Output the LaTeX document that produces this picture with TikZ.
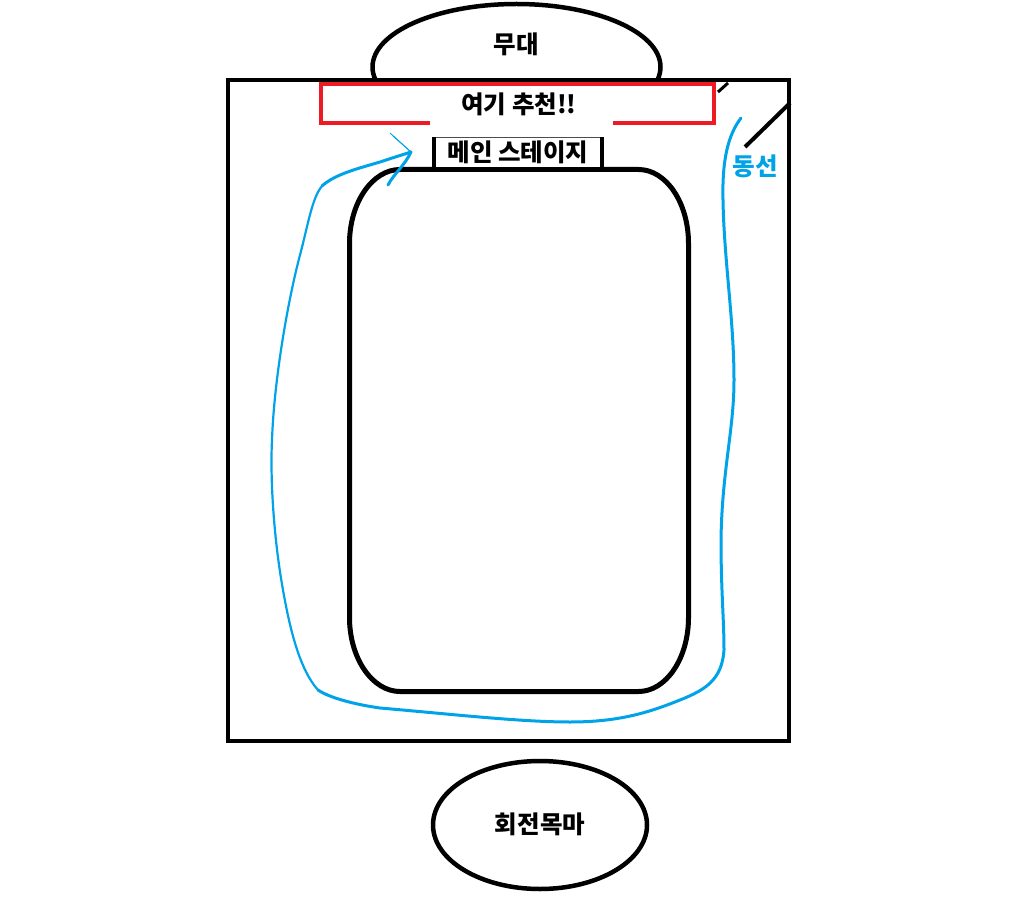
\documentclass[tikz,border=0pt]{standalone}
\usepackage{fontspec}
\usetikzlibrary{shapes.geometric}
\newfontfamily\krfont{Noto Sans CJK KR}
\definecolor{pblue}{HTML}{00A2E8}
\definecolor{pred}{HTML}{ED1C24}
\begin{document}
\begin{tikzpicture}[x=1pt,y=-1pt,
  lbl/.style={font=\krfont\bfseries\fontsize{24.5}{27}\selectfont, inner sep=0pt, anchor=center},
  blk/.style={line width=4.5pt, black},
  flow/.style={pblue, line width=3pt, line cap=round, line join=round}]
\useasboundingbox (0,0) rectangle (1017,901);
% stage ellipse (upper part)
\begin{scope}
  \clip (300,-10) rectangle (740,86);
  \draw[blk] (516.5,67) ellipse[x radius=144, y radius=63];
\end{scope}
\node[lbl] (stage) at (516,44) {무대};
% outer hall
\draw[line width=4pt] (228,80) rectangle (789,741);
% recommended zone
\coordinate (rbl) at (321,123);
\coordinate (rbr) at (714,123);
\draw[pred, line width=4pt] (430,123) -- (rbl) -- (321,84) -- (714,84) -- (rbr) -- (613,123);
\node[lbl] (rec) at (519,104) {여기 추천!!};
\draw[line width=3pt] (718,92) -- (728,83);
% rounded main area
\draw[line width=5pt, line join=round] (400,169.5) -- (638.5,169.5)
  .. controls (666.1,169.5) and (688.5,202.6) .. (688.5,243.5) -- (688.5,617.5)
  .. controls (688.5,658.4) and (666.1,691.5) .. (638.5,691.5) -- (400,691.5)
  .. controls (372.4,691.5) and (349.5,658.4) .. (349.5,617.5) -- (349.5,243.5)
  .. controls (349.5,202.6) and (372.4,169.5) .. (400,169.5) -- cycle;
% main stage label box
\fill[white] (434,137) rectangle (602,167);
\draw[line width=0.8pt, black!70] (434,137.5) -- (602,137.5);
\draw[line width=4pt] (434,137) -- (434,168);
\draw[line width=4pt] (602,137) -- (602,168);
\node[lbl] (main) at (518,152) {메인 스테이지};
% flow path
\coordinate (tip) at (411,152);
\draw[flow] (741,118) .. controls (728,135) and (722,160) .. (723,200)
  .. controls (724,260) and (734,320) .. (734,380)
  .. controls (734,430) and (722,470) .. (721,540)
  .. controls (721,590) and (724,620) .. (724,650)
  .. controls (722,680) and (705,690) .. (680,700)
  .. controls (650,712) and (620,722) .. (570,722)
  .. controls (520,722) and (450,714) .. (380,708)
  .. controls (345,703) and (325,695) .. (318,690);
\draw[pblue, line width=2.2pt, line cap=round, line join=round] (318,690)
  .. controls (300,670) and (290,630) .. (283,590)
  .. controls (274,540) and (270,480) .. (272,440)
  .. controls (274,380) and (288,300) .. (300,255)
  .. controls (308,225) and (312,198) .. (322,186);
\draw[flow] (322,186) .. controls (335,174) and (360,168) .. (380,162)
  .. controls (395,157) and (405,154) .. (tip);
\draw[flow] (tip) .. controls (405,165) and (393,175) .. (388,185);
\draw[pblue, line width=0.9pt] (tip) -- (390,133);
\draw[pblue, line width=0.9pt] (tip) -- (393,136);
% flow label and pointer
\node[lbl, text=pblue] (flowlbl) at (755,166) {동선};
\coordinate (ptr) at (790,103);
\draw[line width=4pt] (745,147) -- (ptr);
% carousel
\node[draw, line width=4.5pt, ellipse, minimum width=214pt, minimum height=128pt, inner sep=0pt] (carousel) at (540,825) {};
\node[lbl] (carlbl) at (540,824) {회전목마};
\end{tikzpicture}
\end{document}
